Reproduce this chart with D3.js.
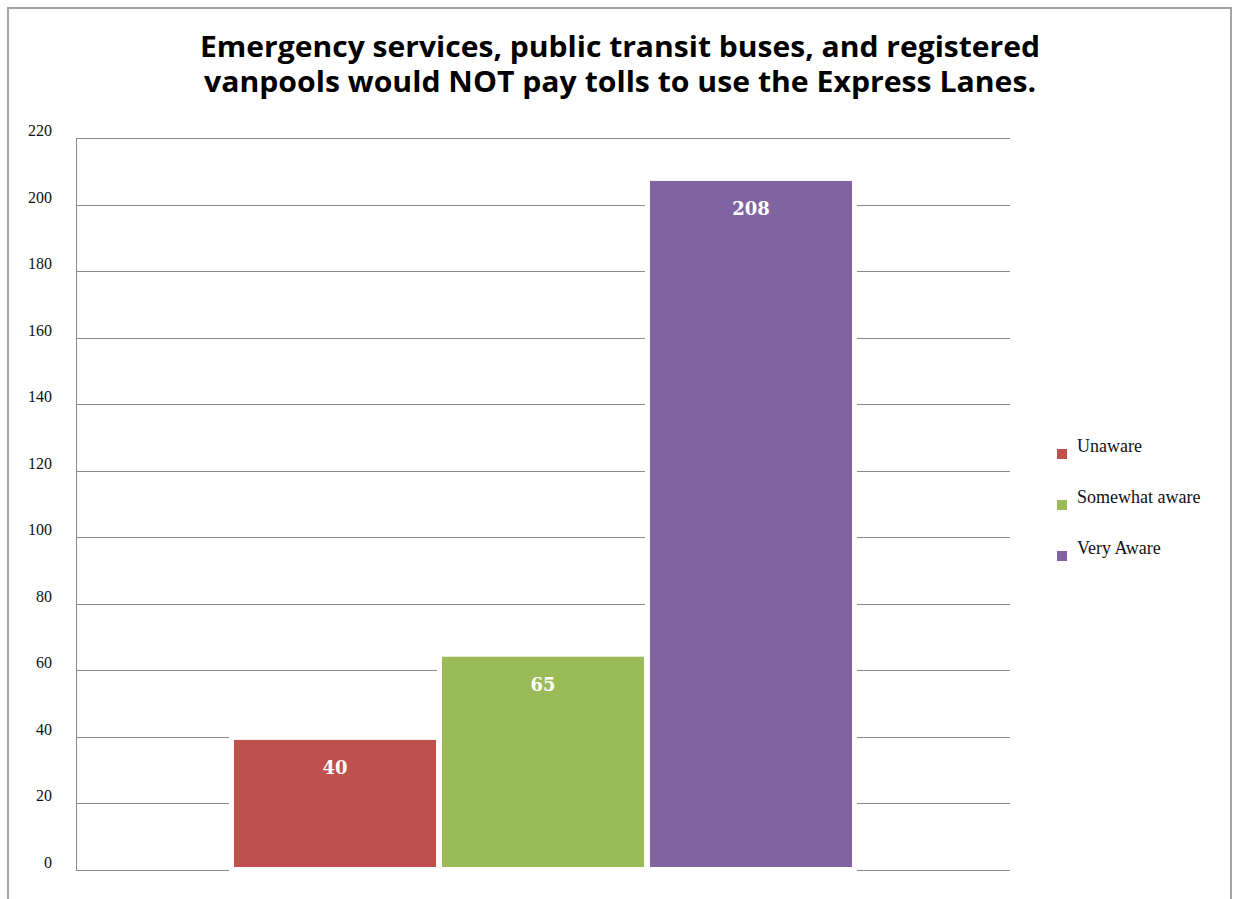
<!doctype html>
<html lang="en">
<head>
  <meta charset="utf-8">
  <title>Express Lanes</title>
  <style>
    body { margin: 0; background: #fff; }
    .grid line { stroke: #8a8a8a; stroke-width: 1; }
    .tick-label { font-family: "Liberation Serif", serif; font-size: 16px; fill: #111; }
    .legend text { font-family: "Liberation Serif", serif; font-size: 18px; fill: #111; }
  </style>
</head>
<body>
  <div id="chart"></div>
  <script src="https://cdn.jsdelivr.net/npm/d3@7"></script>
  <script>
// chart data
var categories = ["Unaware", "Somewhat aware", "Very Aware"];
var values = [40, 65, 208];
var colors = ["#c0504d", "#9bbb59", "#8064a2"];
var yTicks = [0, 20, 40, 60, 80, 100, 120, 140, 160, 180, 200, 220];
var titleLines = [
  "Emergency services, public transit buses, and registered",
  "vanpools would NOT pay tolls to use the Express Lanes."
];

(function(){
  var width = 1235, height = 899;

  var svg = d3.select("#chart").append("svg")
    .attr("width", width)
    .attr("height", height);

  // outer frame (open at the bottom)
  svg.append("path")
    .attr("d", "M8,899 V8 H1231 V899")
    .attr("fill", "none")
    .attr("stroke", "#a3a3a3")
    .attr("stroke-width", 2);

  // title
  svg.selectAll(".title").data(titleLines).enter()
    .append("text")
    .attr("class", "title")
    .attr("x", 620)
    .attr("y", function(d, i) { return 57 + i * 35; })
    .attr("text-anchor", "middle")
    .attr("textLength", function(d, i) { return i == 0 ? 840 : 832; })
    .attr("lengthAdjust", "spacingAndGlyphs")
    .style("font-family", "'Open Sans', sans-serif")
    .style("font-weight", "bold")
    .style("font-size", "28px")
    .style("fill", "#000")
    .text(function(d) { return d; });

  var y = d3.scaleLinear().domain([0, 220]).range([870, 138]);
  var x = d3.scaleBand().domain(categories).range([231, 855]).padding(0);

  // gridlines
  var grid = svg.append("g").attr("class", "grid");
  grid.selectAll("line.h").data(yTicks).enter()
    .append("line")
    .attr("class", "h")
    .attr("x1", 76).attr("x2", 1010)
    .attr("y1", function(d) { return Math.round(y(d)) + 0.5; })
    .attr("y2", function(d) { return Math.round(y(d)) + 0.5; });
  grid.append("line")
    .attr("x1", 76.5).attr("x2", 76.5)
    .attr("y1", y(220)).attr("y2", y(0));

  // tick labels
  svg.selectAll(".tick-label").data(yTicks).enter()
    .append("text")
    .attr("class", "tick-label")
    .attr("x", 52)
    .attr("y", function(d) { return y(d) - 2; })
    .attr("text-anchor", "end")
    .text(function(d) { return d; });

  // white halo behind bars that cuts gridlines
  svg.selectAll(".halo").data(values).enter()
    .append("rect")
    .attr("x", function(d, i) { return x(categories[i]) - 2; })
    .attr("width", x.bandwidth() + 4)
    .attr("y", function(d) { return y(d) - 2; })
    .attr("height", function(d) { return y(0) - y(d) + 5; })
    .attr("fill", "#fff");

  // bars
  svg.selectAll(".bar").data(values).enter()
    .append("rect")
    .attr("class", "bar")
    .attr("x", function(d, i) { return x(categories[i]) + 3; })
    .attr("width", x.bandwidth() - 6)
    .attr("y", function(d) { return y(d) + 3; })
    .attr("height", function(d) { return y(0) - y(d) - 6; })
    .attr("fill", function(d, i) { return colors[i]; });

  // value labels
  svg.selectAll(".val").data(values).enter()
    .append("text")
    .attr("class", "val")
    .attr("x", function(d, i) { return x(categories[i]) + x.bandwidth() / 2; })
    .attr("y", function(d) { return y(d) + 37; })
    .attr("text-anchor", "middle")
    .style("font-family", "'DejaVu Serif', serif")
    .style("font-weight", "bold")
    .style("font-size", "18px")
    .style("fill", "#fff")
    .text(function(d) { return d; });

  // legend
  var legend = svg.append("g").attr("class", "legend");
  var item = legend.selectAll("g").data(categories).enter()
    .append("g")
    .attr("transform", function(d, i) { return "translate(1057," + (449 + i * 51) + ")"; });
  item.append("rect")
    .attr("width", 10).attr("height", 10)
    .attr("fill", function(d, i) { return colors[i]; });
  item.append("text")
    .attr("x", 20)
    .attr("y", 3)
    .text(function(d) { return d; });

})();
  </script>
</body>
</html>
